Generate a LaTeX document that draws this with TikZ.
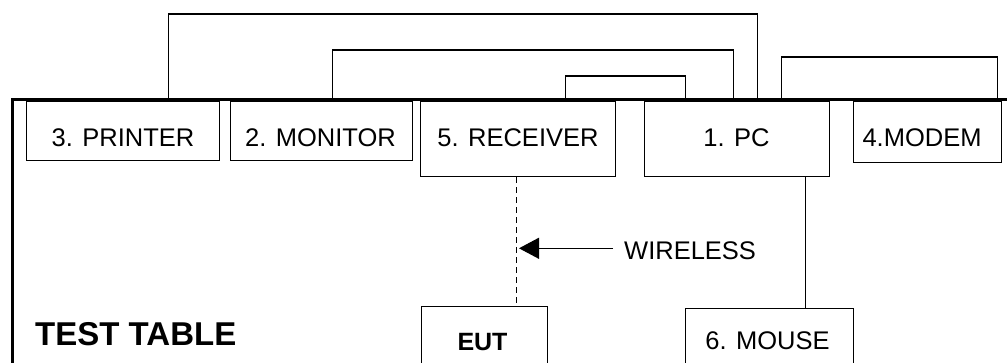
\documentclass[tikz,border=0pt]{standalone}
\usepackage{fontspec}
\setmainfont{Liberation Sans}
\usetikzlibrary{arrows.meta}
\begin{document}
\begin{tikzpicture}[x=1pt,y=-1pt,
  devbox/.style={draw, line width=1.2pt, rectangle, inner sep=0pt, anchor=north west},
  lbl/.style={font=\fontsize{25.5}{30}\selectfont, inner sep=0pt, anchor=base},
  cable/.style={line width=1.2pt},
  tableline/.style={line width=2.7pt}
]
\useasboundingbox (0,0) rectangle (1007,363);
\clip (0,0) rectangle (1007,363);

% table edge
\coordinate (tbl-bl) at (12.5,380);
\coordinate (tbl-tl) at (12.5,99.5);
\coordinate (tbl-tr) at (1020,99.5);
\draw[tableline] (tbl-bl) -- (tbl-tl) -- (tbl-tr);

% devices
\node[devbox, minimum width=193pt, minimum height=59pt] (printer) at (26,101) {};
\node[devbox, minimum width=182pt, minimum height=59pt] (monitor) at (230,101) {};
\node[devbox, minimum width=195pt, minimum height=75pt] (receiver) at (420,101) {};
\node[devbox, minimum width=185pt, minimum height=75pt] (pc) at (644,101) {};
\node[devbox, minimum width=148pt, minimum height=61pt] (modem) at (853,101) {};
\node[devbox, minimum width=126pt, minimum height=80pt] (eut) at (421,306) {};
\node[devbox, minimum width=168pt, minimum height=80pt] (mouse) at (685,308) {};

% labels
\node[lbl] (printer-t) at (123,147) {3. PRINTER};
\node[lbl] (monitor-t) at (320.5,147) {2. MONITOR};
\node[lbl] (receiver-t) at (518,147) {5. RECEIVER};
\node[lbl] (pc-t) at (736.5,147) {1. PC};
\node[lbl] (modem-t) at (922,147) {4.MODEM};
\node[lbl] (mouse-t) at (767.5,350) {6. MOUSE};
\node[lbl, font=\fontsize{25}{30}\selectfont\bfseries] (eut-t) at (482.5,350.5) {EUT};
\node[lbl, anchor=base west, font=\fontsize{33}{38}\selectfont\bfseries] (table-t) at (35,345) {TEST TABLE};
\node[lbl, anchor=base west] (wireless) at (624,260) {WIRELESS};

% cables over the table
\draw[cable] ([xshift=45.5pt]printer.north) -- ++(0,-87) -| ([xshift=20.5pt]pc.north);
\draw[cable] ([xshift=11pt]monitor.north) -- ++(0,-51) -| ([xshift=-3.5pt]pc.north);
\draw[cable] ([xshift=47.5pt]receiver.north) -- ++(0,-25) -| ([xshift=-51.5pt]pc.north);
\draw[cable] ([xshift=44.5pt]pc.north) -- ++(0,-44) -| ([xshift=70pt]modem.north);

% mouse cable
\draw[cable] ([xshift=68.5pt]pc.south) -- ([xshift=68.5pt]pc.south |- mouse.north);

% wireless link
\draw[cable, line width=1pt, dash pattern=on 6pt off 4pt] ([xshift=-1.5pt]receiver.south) -- ([xshift=-1.5pt]receiver.south |- eut.north);
\coordinate (w-start) at (613,248.3);
\coordinate (w-tip) at (519,248.3);
\draw[cable, -{Triangle[length=20pt,width=21pt]}] (w-start) -- (w-tip);
\end{tikzpicture}
\end{document}
